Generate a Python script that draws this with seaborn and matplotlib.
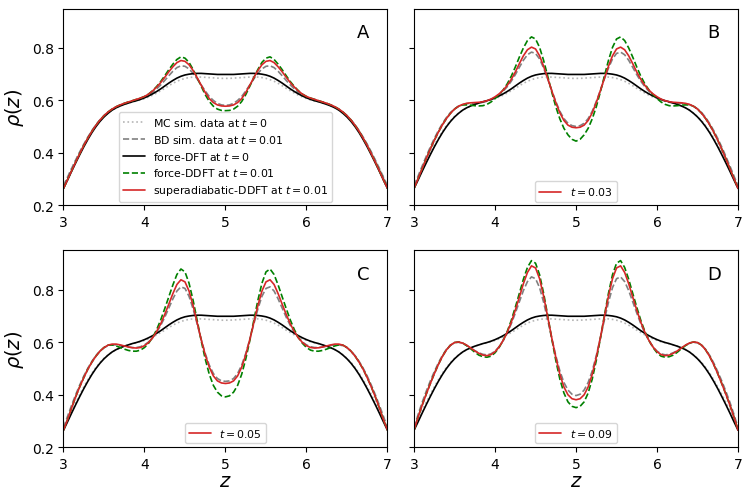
import numpy as np
import matplotlib
matplotlib.use("Agg")
import matplotlib.pyplot as plt
import seaborn as sns

# positions across the slit
z = [3.00, 3.05, 3.10, 3.15, 3.20, 3.25, 3.30, 3.35, 3.40, 3.45,
     3.50, 3.55, 3.60, 3.65, 3.70, 3.75, 3.80, 3.85, 3.90, 3.95,
     4.00, 4.05, 4.10, 4.15, 4.20, 4.25, 4.30, 4.35, 4.40, 4.45,
     4.50, 4.55, 4.60, 4.65, 4.70, 4.75, 4.80, 4.85, 4.90, 4.95,
     5.00,
     5.05, 5.10, 5.15, 5.20, 5.25, 5.30, 5.35, 5.40, 5.45, 5.50,
     5.55, 5.60, 5.65, 5.70, 5.75, 5.80, 5.85, 5.90, 5.95, 6.00,
     6.05, 6.10, 6.15, 6.20, 6.25, 6.30, 6.35, 6.40, 6.45, 6.50,
     6.55, 6.60, 6.65, 6.70, 6.75, 6.80, 6.85, 6.90, 6.95, 7.00]

# t = 0 curves (same in every panel)
mc_t0 = [0.275, 0.307, 0.340, 0.371, 0.401, 0.430, 0.457, 0.482, 0.504, 0.523,
         0.539, 0.552, 0.563, 0.572, 0.579, 0.585, 0.590, 0.594, 0.598, 0.602,
         0.607, 0.613, 0.620, 0.628, 0.637, 0.646, 0.656, 0.665, 0.673, 0.679,
         0.684, 0.687, 0.689, 0.689, 0.689, 0.688, 0.687, 0.686, 0.685, 0.684,
         0.684,
         0.684, 0.685, 0.686, 0.687, 0.688, 0.689, 0.689, 0.689, 0.687, 0.684,
         0.679, 0.673, 0.665, 0.656, 0.646, 0.637, 0.628, 0.620, 0.613, 0.607,
         0.602, 0.598, 0.594, 0.590, 0.585, 0.579, 0.572, 0.563, 0.552, 0.539,
         0.523, 0.504, 0.482, 0.457, 0.430, 0.401, 0.371, 0.340, 0.307, 0.275]
dft_t0 = [0.265, 0.297, 0.330, 0.362, 0.393, 0.423, 0.451, 0.477, 0.500, 0.520,
          0.537, 0.551, 0.563, 0.572, 0.579, 0.585, 0.590, 0.595, 0.599, 0.604,
          0.610, 0.617, 0.625, 0.634, 0.644, 0.655, 0.666, 0.676, 0.685, 0.692,
          0.697, 0.700, 0.702, 0.703, 0.703, 0.702, 0.701, 0.700, 0.699, 0.699,
          0.699,
          0.699, 0.699, 0.700, 0.701, 0.702, 0.703, 0.703, 0.702, 0.700, 0.697,
          0.692, 0.685, 0.676, 0.666, 0.655, 0.644, 0.634, 0.625, 0.617, 0.610,
          0.604, 0.599, 0.595, 0.590, 0.585, 0.579, 0.572, 0.563, 0.551, 0.537,
          0.520, 0.500, 0.477, 0.451, 0.423, 0.393, 0.362, 0.330, 0.297, 0.265]

# t = 0.01
bd_a = [0.275, 0.308, 0.341, 0.373, 0.404, 0.433, 0.460, 0.485, 0.507, 0.526,
        0.542, 0.555, 0.566, 0.575, 0.582, 0.588, 0.593, 0.597, 0.602, 0.607,
        0.613, 0.621, 0.631, 0.644, 0.659, 0.676, 0.694, 0.711, 0.725, 0.732,
        0.730, 0.720, 0.703, 0.682, 0.659, 0.636, 0.615, 0.600, 0.589, 0.583,
        0.581,
        0.583, 0.589, 0.600, 0.615, 0.636, 0.659, 0.682, 0.703, 0.720, 0.730,
        0.732, 0.725, 0.711, 0.694, 0.676, 0.659, 0.644, 0.631, 0.621, 0.613,
        0.607, 0.602, 0.597, 0.593, 0.588, 0.582, 0.575, 0.566, 0.555, 0.542,
        0.526, 0.507, 0.485, 0.460, 0.433, 0.404, 0.373, 0.341, 0.308, 0.275]
ddft_a = [0.265, 0.298, 0.332, 0.365, 0.397, 0.428, 0.456, 0.482, 0.505, 0.525,
          0.542, 0.556, 0.567, 0.576, 0.583, 0.589, 0.594, 0.599, 0.604, 0.609,
          0.615, 0.624, 0.637, 0.653, 0.672, 0.694, 0.717, 0.738, 0.756, 0.766,
          0.761, 0.745, 0.718, 0.687, 0.654, 0.622, 0.596, 0.578, 0.567, 0.562,
          0.561,
          0.562, 0.567, 0.578, 0.596, 0.622, 0.654, 0.687, 0.718, 0.745, 0.761,
          0.766, 0.756, 0.738, 0.717, 0.694, 0.672, 0.653, 0.637, 0.624, 0.615,
          0.609, 0.604, 0.599, 0.594, 0.589, 0.583, 0.576, 0.567, 0.556, 0.542,
          0.525, 0.505, 0.482, 0.456, 0.428, 0.397, 0.365, 0.332, 0.298, 0.265]
sa_a = [0.265, 0.298, 0.332, 0.365, 0.397, 0.428, 0.456, 0.482, 0.505, 0.525,
        0.542, 0.556, 0.567, 0.576, 0.583, 0.589, 0.594, 0.599, 0.604, 0.609,
        0.615, 0.624, 0.636, 0.651, 0.668, 0.688, 0.709, 0.728, 0.744, 0.752,
        0.749, 0.736, 0.714, 0.687, 0.658, 0.630, 0.607, 0.592, 0.583, 0.579,
        0.578,
        0.579, 0.583, 0.592, 0.607, 0.630, 0.658, 0.687, 0.714, 0.736, 0.749,
        0.752, 0.744, 0.728, 0.709, 0.688, 0.668, 0.651, 0.636, 0.624, 0.615,
        0.609, 0.604, 0.599, 0.594, 0.589, 0.583, 0.576, 0.567, 0.556, 0.542,
        0.525, 0.505, 0.482, 0.456, 0.428, 0.397, 0.365, 0.332, 0.298, 0.265]

# t = 0.03
bd_b = [0.275, 0.312, 0.350, 0.387, 0.422, 0.455, 0.485, 0.512, 0.535, 0.554,
        0.568, 0.578, 0.584, 0.588, 0.589, 0.590, 0.591, 0.593, 0.597, 0.603,
        0.611, 0.622, 0.635, 0.652, 0.673, 0.698, 0.726, 0.753, 0.774, 0.784,
        0.779, 0.758, 0.723, 0.682, 0.638, 0.596, 0.559, 0.531, 0.513, 0.504,
        0.501,
        0.504, 0.513, 0.531, 0.559, 0.596, 0.638, 0.682, 0.723, 0.758, 0.779,
        0.784, 0.774, 0.753, 0.726, 0.698, 0.673, 0.652, 0.635, 0.622, 0.611,
        0.603, 0.597, 0.593, 0.591, 0.590, 0.589, 0.588, 0.584, 0.578, 0.568,
        0.554, 0.535, 0.512, 0.485, 0.455, 0.422, 0.387, 0.350, 0.312, 0.275]
ddft_b = [0.265, 0.302, 0.340, 0.378, 0.414, 0.448, 0.479, 0.507, 0.531, 0.551,
          0.567, 0.578, 0.583, 0.583, 0.582, 0.580, 0.579, 0.580, 0.585, 0.594,
          0.607, 0.622, 0.640, 0.663, 0.692, 0.727, 0.765, 0.800, 0.828, 0.842,
          0.834, 0.802, 0.752, 0.693, 0.632, 0.576, 0.530, 0.494, 0.469, 0.452,
          0.445,
          0.452, 0.469, 0.494, 0.530, 0.576, 0.632, 0.693, 0.752, 0.802, 0.834,
          0.842, 0.828, 0.800, 0.765, 0.727, 0.692, 0.663, 0.640, 0.622, 0.607,
          0.594, 0.585, 0.580, 0.579, 0.580, 0.582, 0.583, 0.583, 0.578, 0.567,
          0.551, 0.531, 0.507, 0.479, 0.448, 0.414, 0.378, 0.340, 0.302, 0.265]
sa_b = [0.265, 0.302, 0.340, 0.378, 0.414, 0.448, 0.479, 0.507, 0.531, 0.551,
        0.567, 0.578, 0.585, 0.589, 0.591, 0.592, 0.593, 0.595, 0.599, 0.605,
        0.614, 0.625, 0.639, 0.657, 0.680, 0.708, 0.740, 0.770, 0.793, 0.803,
        0.796, 0.770, 0.730, 0.684, 0.637, 0.592, 0.553, 0.524, 0.506, 0.498,
        0.496,
        0.498, 0.506, 0.524, 0.553, 0.592, 0.637, 0.684, 0.730, 0.770, 0.796,
        0.803, 0.793, 0.770, 0.740, 0.708, 0.680, 0.657, 0.639, 0.625, 0.614,
        0.605, 0.599, 0.595, 0.593, 0.592, 0.591, 0.589, 0.585, 0.578, 0.567,
        0.551, 0.531, 0.507, 0.479, 0.448, 0.414, 0.378, 0.340, 0.302, 0.265]

# t = 0.05
bd_c = [0.275, 0.318, 0.360, 0.400, 0.437, 0.471, 0.501, 0.527, 0.549, 0.566,
        0.579, 0.587, 0.590, 0.590, 0.588, 0.585, 0.582, 0.580, 0.580, 0.583,
        0.590, 0.601, 0.617, 0.638, 0.664, 0.695, 0.730, 0.765, 0.795, 0.811,
        0.805, 0.775, 0.727, 0.670, 0.611, 0.557, 0.513, 0.481, 0.462, 0.453,
        0.451,
        0.453, 0.462, 0.481, 0.513, 0.557, 0.611, 0.670, 0.727, 0.775, 0.805,
        0.811, 0.795, 0.765, 0.730, 0.695, 0.664, 0.638, 0.617, 0.601, 0.590,
        0.583, 0.580, 0.580, 0.582, 0.585, 0.588, 0.590, 0.590, 0.587, 0.579,
        0.566, 0.549, 0.527, 0.501, 0.471, 0.437, 0.400, 0.360, 0.318, 0.275]
ddft_c = [0.265, 0.305, 0.350, 0.392, 0.430, 0.465, 0.497, 0.524, 0.547, 0.566,
          0.580, 0.589, 0.590, 0.586, 0.580, 0.574, 0.569, 0.566, 0.566, 0.570,
          0.580, 0.596, 0.618, 0.648, 0.685, 0.728, 0.773, 0.818, 0.858, 0.879,
          0.868, 0.825, 0.760, 0.684, 0.606, 0.536, 0.478, 0.436, 0.410, 0.396,
          0.392,
          0.396, 0.410, 0.436, 0.478, 0.536, 0.606, 0.684, 0.760, 0.825, 0.868,
          0.879, 0.858, 0.818, 0.773, 0.728, 0.685, 0.648, 0.618, 0.596, 0.580,
          0.570, 0.566, 0.566, 0.569, 0.574, 0.580, 0.586, 0.590, 0.589, 0.580,
          0.566, 0.547, 0.524, 0.497, 0.465, 0.430, 0.392, 0.350, 0.305, 0.265]
sa_c = [0.265, 0.305, 0.350, 0.392, 0.430, 0.465, 0.497, 0.524, 0.547, 0.566,
        0.580, 0.589, 0.593, 0.593, 0.590, 0.586, 0.582, 0.579, 0.578, 0.580,
        0.587, 0.599, 0.617, 0.641, 0.670, 0.706, 0.745, 0.785, 0.820, 0.838,
        0.830, 0.795, 0.740, 0.675, 0.610, 0.552, 0.505, 0.472, 0.453, 0.445,
        0.443,
        0.445, 0.453, 0.472, 0.505, 0.552, 0.610, 0.675, 0.740, 0.795, 0.830,
        0.838, 0.820, 0.785, 0.745, 0.706, 0.670, 0.641, 0.617, 0.599, 0.587,
        0.580, 0.578, 0.579, 0.582, 0.586, 0.590, 0.593, 0.593, 0.589, 0.580,
        0.566, 0.547, 0.524, 0.497, 0.465, 0.430, 0.392, 0.350, 0.305, 0.265]

# t = 0.09
bd_d = [0.275, 0.325, 0.371, 0.413, 0.452, 0.488, 0.521, 0.550, 0.573, 0.589,
        0.598, 0.600, 0.596, 0.588, 0.578, 0.568, 0.560, 0.554, 0.552, 0.556,
        0.566, 0.583, 0.606, 0.635, 0.670, 0.711, 0.754, 0.797, 0.831, 0.849,
        0.842, 0.808, 0.752, 0.685, 0.615, 0.549, 0.491, 0.447, 0.418, 0.402,
        0.397,
        0.402, 0.418, 0.447, 0.491, 0.549, 0.615, 0.685, 0.752, 0.808, 0.842,
        0.849, 0.831, 0.797, 0.754, 0.711, 0.670, 0.635, 0.606, 0.583, 0.566,
        0.556, 0.552, 0.554, 0.560, 0.568, 0.578, 0.588, 0.596, 0.600, 0.598,
        0.589, 0.573, 0.550, 0.521, 0.488, 0.452, 0.413, 0.371, 0.325, 0.275]
ddft_d = [0.265, 0.315, 0.360, 0.402, 0.442, 0.480, 0.515, 0.546, 0.571, 0.589,
          0.599, 0.601, 0.597, 0.587, 0.575, 0.562, 0.551, 0.545, 0.543, 0.547,
          0.560, 0.580, 0.607, 0.641, 0.683, 0.733, 0.786, 0.840, 0.885, 0.911,
          0.901, 0.857, 0.786, 0.702, 0.614, 0.531, 0.460, 0.407, 0.373, 0.356,
          0.351,
          0.356, 0.373, 0.407, 0.460, 0.531, 0.614, 0.702, 0.786, 0.857, 0.901,
          0.911, 0.885, 0.840, 0.786, 0.733, 0.683, 0.641, 0.607, 0.580, 0.560,
          0.547, 0.543, 0.545, 0.551, 0.562, 0.575, 0.587, 0.597, 0.601, 0.599,
          0.589, 0.571, 0.546, 0.515, 0.480, 0.442, 0.402, 0.360, 0.315, 0.265]
sa_d = [0.265, 0.315, 0.360, 0.402, 0.442, 0.480, 0.515, 0.546, 0.571, 0.589,
        0.599, 0.601, 0.597, 0.589, 0.578, 0.567, 0.558, 0.551, 0.549, 0.553,
        0.564, 0.582, 0.607, 0.638, 0.676, 0.722, 0.772, 0.823, 0.866, 0.891,
        0.883, 0.842, 0.775, 0.697, 0.617, 0.543, 0.478, 0.430, 0.400, 0.385,
        0.381,
        0.385, 0.400, 0.430, 0.478, 0.543, 0.617, 0.697, 0.775, 0.842, 0.883,
        0.891, 0.866, 0.823, 0.772, 0.722, 0.676, 0.638, 0.607, 0.582, 0.564,
        0.553, 0.549, 0.551, 0.558, 0.567, 0.578, 0.589, 0.597, 0.601, 0.599,
        0.589, 0.571, 0.546, 0.515, 0.480, 0.442, 0.402, 0.360, 0.315, 0.265]

panel_letters = ["A", "B", "C", "D"]
times = ["0.01", "0.03", "0.05", "0.09"]
bd_all = [bd_a, bd_b, bd_c, bd_d]
ddft_all = [ddft_a, ddft_b, ddft_c, ddft_d]
sa_all = [sa_a, sa_b, sa_c, sa_d]

sns.set_style("ticks")
plt.rcParams["font.family"] = ["DejaVu Sans"]
plt.rcParams["mathtext.fontset"] = "dejavusans"
plt.rcParams.update({
    "text.color": "black",
    "axes.labelcolor": "black",
    "axes.edgecolor": "black",
    "xtick.color": "black",
    "ytick.color": "black",
    "legend.edgecolor": "0.8",
})

fig, axes = plt.subplots(2, 2, figsize=(7.47, 5.02), dpi=100, sharex=True, sharey=True)
fig.subplots_adjust(left=0.085, right=0.988, top=0.981, bottom=0.107, wspace=0.082, hspace=0.228)

for i, ax in enumerate(axes.flat):
    t = times[i]
    sns.lineplot(x=z, y=mc_t0, ax=ax, color="#b5b5b5", linestyle=":", lw=1.2,
                 label=r"MC sim. data at $t=0$", estimator=None)
    sns.lineplot(x=z, y=bd_all[i], ax=ax, color="grey", linestyle="--", lw=1.2,
                 label=rf"BD sim. data at $t={t}$", estimator=None)
    sns.lineplot(x=z, y=dft_t0, ax=ax, color="black", lw=1.2,
                 label=r"force-DFT at $t=0$", estimator=None)
    sns.lineplot(x=z, y=ddft_all[i], ax=ax, color="green", linestyle="--", lw=1.2,
                 label=rf"force-DDFT at $t={t}$", estimator=None)
    sns.lineplot(x=z, y=sa_all[i], ax=ax, color="#d62728", lw=1.2,
                 label=rf"superadiabatic-DDFT at $t={t}$", estimator=None)

    ax.set_xlim(3, 7)
    ax.set_ylim(0.2, 0.95)
    ax.set_xticks([3, 4, 5, 6, 7])
    ax.set_yticks([0.2, 0.4, 0.6, 0.8])
    ax.tick_params(labelsize=10, labelbottom=True)
    ax.text(0.925, 0.88, panel_letters[i], transform=ax.transAxes,
            fontsize=13, ha="center", va="center")
    ax.set_xlabel("")
    ax.set_ylabel("")

    handles, labels = ax.get_legend_handles_labels()
    if i == 0:
        ax.legend(handles, labels, loc="lower center", fontsize=7.8,
                  borderaxespad=0.35, labelspacing=0.45, handlelength=2.0)
    else:
        ax.legend([handles[-1]], [rf"$t={t}$"], loc="lower center", fontsize=7.8,
                  borderaxespad=0.35, handlelength=2.0)

for ax in axes[:, 0]:
    ax.set_ylabel(r"$\rho(z)$", fontsize=14)
for ax in axes[1, :]:
    ax.set_xlabel(r"$z$", fontsize=14, labelpad=0)

fig.savefig("out.png", dpi=100)
